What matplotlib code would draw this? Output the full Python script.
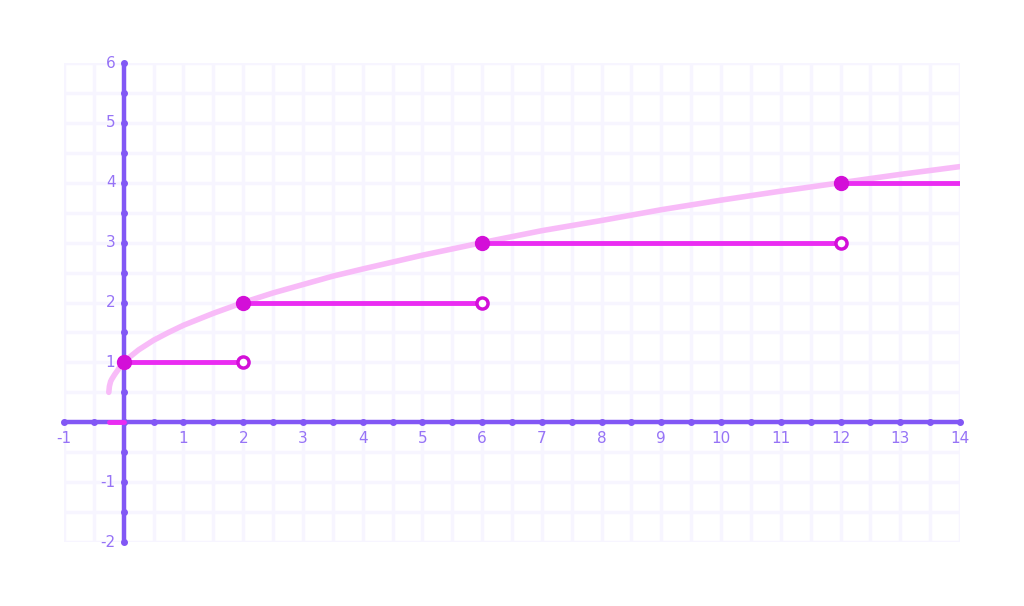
import matplotlib.pyplot as plt
import numpy as np

# step segments (floor of the curve): start, end, level
seg_start = [-0.25, 0, 2, 6, 12]
seg_end = [0, 2, 6, 12, 14]
seg_level = [0, 1, 2, 3, 4]
filled_x = [0, 2, 6, 12]
filled_y = [1, 2, 3, 4]
open_x = [2, 6, 12]
open_y = [1, 2, 3]

# curve
curve_x = [-0.25, -0.24, -0.22, -0.2, -0.15, -0.1, -0.05, 0, 0.1, 0.25, 0.5, 0.75, 1,
           1.5, 2, 2.5, 3, 3.5, 4, 5, 6, 7, 8, 9, 10, 11, 12, 13, 14]
curve_y = [0.5, 0.6, 0.68, 0.72, 0.8, 0.87, 0.95, 1.0, 1.09, 1.21, 1.37, 1.5, 1.62,
           1.82, 2.0, 2.16, 2.3, 2.44, 2.56, 2.79, 3.0, 3.2, 3.37, 3.55, 3.71, 3.86, 4.0, 4.14, 4.27]

xticks = [-1, 1, 2, 3, 4, 5, 6, 7, 8, 9, 10, 11, 12, 13, 14]
yticks = [-2, -1, 1, 2, 3, 4, 5, 6]

axis_col = '#8257f5'
label_col = '#9673f6'
grid_col = '#f7f5ff'
step_col = '#ea2cf2'
dot_col = '#d30fd8'
curve_col = '#f8bbf8'

fig = plt.figure(figsize=(10.24, 6.06), dpi=100)
ax = fig.add_axes([0.0625, 0.1056, 0.875, 0.7904])
ax.set_xlim(-1, 14)
ax.set_ylim(-2, 6)

for gx in np.arange(-1, 14.01, 0.5):
    ax.axvline(gx, color=grid_col, lw=2.5, zorder=0)
for gy in np.arange(-2, 6.01, 0.5):
    ax.axhline(gy, color=grid_col, lw=2.5, zorder=0)

for s in ax.spines.values():
    s.set_visible(False)
ax.set_xticks([])
ax.set_yticks([])

# axes lines with dot ticks
ax.plot([-1, 14], [0, 0], color=axis_col, lw=3.2, zorder=2, solid_capstyle='round')
ax.plot([0, 0], [-2, 6], color=axis_col, lw=3.2, zorder=2, solid_capstyle='round')
hx = np.arange(-1, 14.01, 0.5)
hy = np.arange(-2, 6.01, 0.5)
ax.plot(hx, np.zeros_like(hx), 'o', color=axis_col, ms=4, zorder=2, clip_on=False)
ax.plot(np.zeros_like(hy), hy, 'o', color=axis_col, ms=4, zorder=2, clip_on=False)

for t in xticks:
    ax.annotate(str(t), (t, 0), xytext=(0, -12), textcoords='offset points',
                ha='center', va='center', color=label_col, fontsize=11)
for t in yticks:
    ax.annotate(str(t), (0, t), xytext=(-6, 0), textcoords='offset points',
                ha='right', va='center', color=label_col, fontsize=11)

ax.plot(curve_x, curve_y, color=curve_col, lw=4, zorder=3, solid_capstyle='round')

for a, b, lv in zip(seg_start, seg_end, seg_level):
    ax.plot([a, b], [lv, lv], color=step_col, lw=3.5, zorder=4, solid_capstyle='round')

ax.plot(filled_x, filled_y, 'o', color=dot_col, ms=10, zorder=5, clip_on=False)
ax.plot(open_x, open_y, 'o', mfc='white', mec=dot_col, mew=2.5, ms=8, zorder=5)

fig.savefig('out.png', dpi=100)
